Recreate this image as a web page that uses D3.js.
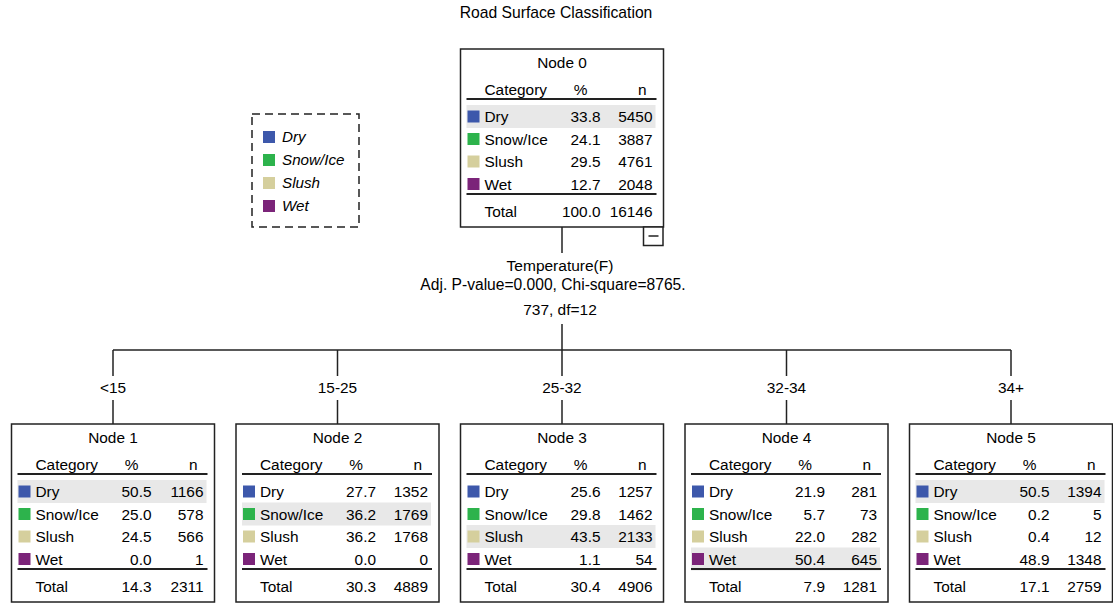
<!DOCTYPE html>
<html><head><meta charset="utf-8">
<script src="https://cdn.jsdelivr.net/npm/d3@7/dist/d3.min.js"></script>
<style>
html,body{margin:0;padding:0;background:#fff;}
svg{display:block;font-family:"Liberation Sans",Arial,Helvetica,sans-serif;}
</style></head>
<body>
<svg id="chart" width="1113" height="603"></svg>
<script>
const title = "Road Surface Classification";
const categories = ["Dry", "Snow/Ice", "Slush", "Wet"];
const categoryColors = ["#3D58AB", "#2DB34C", "#D5CF9D", "#7B2479"];
const nodeNames = ["Node 0", "Node 1", "Node 2", "Node 3", "Node 4", "Node 5"];
const nodePct = [
  [33.8, 24.1, 29.5, 12.7],
  [50.5, 25.0, 24.5, 0.0],
  [27.7, 36.2, 36.2, 0.0],
  [25.6, 29.8, 43.5, 1.1],
  [21.9, 5.7, 22.0, 50.4],
  [50.5, 0.2, 0.4, 48.9]
];
const nodeN = [
  [5450, 3887, 4761, 2048],
  [1166, 578, 566, 1],
  [1352, 1769, 1768, 0],
  [1257, 1462, 2133, 54],
  [281, 73, 282, 645],
  [1394, 5, 12, 1348]
];
const totalPct = ["100.0", "14.3", "30.3", "30.4", "7.9", "17.1"];
const totalN = [16146, 2311, 4889, 4906, 1281, 2759];
const splitVariable = "Temperature(F)";
const splitStats = ["Adj. P-value=0.000, Chi-square=8765.", "737, df=12"];
const splitLabels = ["<15", "15-25", "25-32", "32-34", "34+"];

const svg = d3.select("#chart");
const boxW = 203, boxH = 178;
const rootCx = 562, rootTop = 49;
const childTop = 424, barY = 350;

const xChild = d3.scalePoint().domain(splitLabels).range([113, 1011]);

// Title
svg.append("text").attr("x", 556).attr("y", 13).attr("dy", "0.35em")
  .attr("text-anchor", "middle").attr("font-size", 15.7).text(title);

function drawNode(i, cx, top) {
  const g = svg.append("g").attr("transform", `translate(${cx - boxW / 2},${top})`);
  g.append("rect").attr("width", boxW).attr("height", boxH)
    .attr("fill", "#fff").attr("stroke", "#222").attr("stroke-width", 1.5);
  const fs = 15.4;
  g.append("text").attr("x", boxW / 2).attr("y", 14).attr("dy", "0.35em")
    .attr("text-anchor", "middle").attr("font-size", fs).text(nodeNames[i]);
  g.append("text").attr("x", 24).attr("y", 41).attr("dy", "0.35em").attr("font-size", fs).text("Category");
  g.append("text").attr("x", 120).attr("y", 41).attr("dy", "0.35em").attr("text-anchor", "middle").attr("font-size", fs).text("%");
  g.append("text").attr("x", 186).attr("y", 41).attr("dy", "0.35em").attr("text-anchor", "end").attr("font-size", fs).text("n");
  g.append("line").attr("x1", 6).attr("x2", 196).attr("y1", 50).attr("y2", 50).attr("stroke", "#222").attr("stroke-width", 2);
  const rowY = d3.scaleLinear().domain([0, 3]).range([68, 135.5]);
  const maxIdx = d3.maxIndex(nodeN[i]);
  g.append("rect").attr("x", 6).attr("y", rowY(maxIdx) - 12).attr("width", 189).attr("height", 23).attr("fill", "#E8E8E8");
  categories.forEach((c, k) => {
    const y = rowY(k);
    g.append("rect").attr("x", 7).attr("y", y - 6.5).attr("width", 12).attr("height", 12).attr("fill", categoryColors[k]);
    g.append("text").attr("x", 24).attr("y", y).attr("dy", "0.35em").attr("font-size", fs).text(c);
    g.append("text").attr("x", 140).attr("y", y).attr("dy", "0.35em").attr("text-anchor", "end").attr("font-size", fs).text(nodePct[i][k].toFixed(1));
    g.append("text").attr("x", 192).attr("y", y).attr("dy", "0.35em").attr("text-anchor", "end").attr("font-size", fs).text(nodeN[i][k]);
  });
  g.append("line").attr("x1", 6).attr("x2", 196).attr("y1", 145).attr("y2", 145).attr("stroke", "#222").attr("stroke-width", 2);
  g.append("text").attr("x", 24).attr("y", 163).attr("dy", "0.35em").attr("font-size", fs).text("Total");
  g.append("text").attr("x", 140).attr("y", 163).attr("dy", "0.35em").attr("text-anchor", "end").attr("font-size", fs).text(totalPct[i]);
  g.append("text").attr("x", 192).attr("y", 163).attr("dy", "0.35em").attr("text-anchor", "end").attr("font-size", fs).text(totalN[i]);
  return g;
}

// connectors
const lineStyle = sel => sel.attr("stroke", "#222").attr("stroke-width", 1.5);
svg.append("line").attr("x1", rootCx).attr("x2", rootCx).attr("y1", rootTop + boxH).attr("y2", 253).call(lineStyle);
svg.append("line").attr("x1", rootCx).attr("x2", rootCx).attr("y1", 324).attr("y2", barY).call(lineStyle);
svg.append("line").attr("x1", xChild(splitLabels[0])).attr("x2", xChild(splitLabels[splitLabels.length - 1]))
  .attr("y1", barY).attr("y2", barY).call(lineStyle);

svg.append("text").attr("x", 560).attr("y", 266).attr("dy", "0.35em").attr("text-anchor", "middle").attr("font-size", 15.5).text(splitVariable);
svg.append("text").attr("x", 553).attr("y", 285).attr("dy", "0.35em").attr("text-anchor", "middle").attr("font-size", 15.6).text(splitStats[0]);
svg.append("text").attr("x", 560).attr("y", 310).attr("dy", "0.35em").attr("text-anchor", "middle").attr("font-size", 15.5).text(splitStats[1]);

splitLabels.forEach((lab, j) => {
  const cx = xChild(lab);
  svg.append("line").attr("x1", cx).attr("x2", cx).attr("y1", barY).attr("y2", 376).call(lineStyle);
  svg.append("line").attr("x1", cx).attr("x2", cx).attr("y1", 400).attr("y2", childTop).call(lineStyle);
  svg.append("text").attr("x", cx).attr("y", 388).attr("dy", "0.35em").attr("text-anchor", "middle").attr("font-size", 15.4).text(lab);
  drawNode(j + 1, cx, childTop);
});

drawNode(0, rootCx, rootTop);

// collapse button
const bx = rootCx + boxW / 2 - 20, by = rootTop + boxH;
svg.append("rect").attr("x", bx).attr("y", by).attr("width", 19.5).attr("height", 18.5).attr("fill", "#fff").attr("stroke", "#222").attr("stroke-width", 1.5);
svg.append("line").attr("x1", bx + 5).attr("x2", bx + 15).attr("y1", by + 9).attr("y2", by + 9).attr("stroke", "#222").attr("stroke-width", 1.5);

// legend
const lg = svg.append("g").attr("transform", "translate(252,114)");
lg.append("rect").attr("width", 107).attr("height", 113).attr("fill", "none")
  .attr("stroke", "#222").attr("stroke-width", 1.5).attr("stroke-dasharray", "8,5");
const legY = d3.scaleLinear().domain([0, 3]).range([23, 92]);
categories.forEach((c, k) => {
  lg.append("rect").attr("x", 11).attr("y", legY(k) - 6).attr("width", 12).attr("height", 12).attr("fill", categoryColors[k]);
  lg.append("text").attr("x", 30).attr("y", legY(k)).attr("dy", "0.35em").attr("font-size", 15.2).attr("font-style", "italic").text(c);
});
</script>
</body></html>
